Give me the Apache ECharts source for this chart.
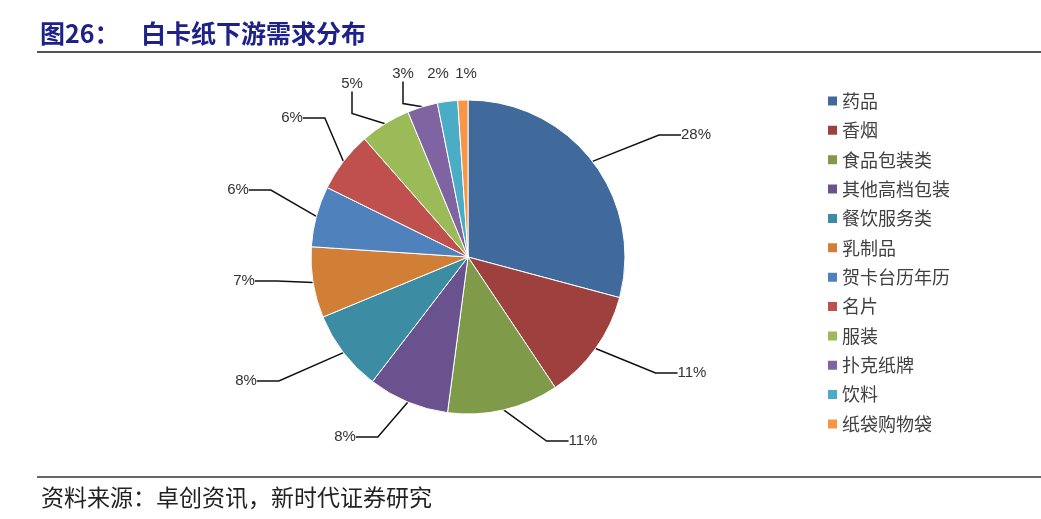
<!DOCTYPE html>
<html><head><meta charset="utf-8">
<script src="https://cdn.jsdelivr.net/npm/echarts@6/dist/echarts.min.js"></script>
<style>html,body{margin:0;padding:0;background:#fff}#c{width:1041px;height:519px}</style>
</head><body><div id="c"></div>
<script>
const categories = ['药品','香烟','食品包装类','其他高档包装','餐饮服务类','乳制品','贺卡台历年历','名片','服装','扑克纸牌','饮料','纸袋购物袋'];
const values = [28,11,11,8,8,7,6,6,5,3,2,1];
const colors = ['#416A9C','#9E413E','#7F9A48','#6A528E','#3C8DA3','#D17F36','#4F81BD','#C0504D','#9BBB59','#8064A2','#4BACC6','#F79646'];
// label anchor placement (styling)
const labelPos = [[696,135],[692,373],[583,441],[345,437],[246,381],[244,281],[238,190],[292,118],[352,84],[403,74],[438,74],[466,74]];
const noLine = [false,false,false,false,false,false,false,false,false,false,true,true];

const chart = echarts.init(document.getElementById('c'));
chart.setOption({
  animation:false,
  title:[
    {text:'图26：', left:35, top:16, textStyle:{fontFamily:'Noto Sans CJK SC',fontSize:25,fontWeight:'bold',color:'#1E2288'}},
    {text:'白卡纸下游需求分布', left:136, top:16, textStyle:{fontFamily:'Noto Sans CJK SC',fontSize:25,fontWeight:'bold',color:'#1E2288'}},
    {text:'资料来源：卓创资讯，新时代证券研究', left:36, top:481, textStyle:{fontFamily:'Noto Sans CJK SC',fontSize:23,fontWeight:'normal',color:'#222'}}
  ],
  graphic:[
    {type:'line',shape:{x1:37,y1:52,x2:1041,y2:52},style:{stroke:'#555',lineWidth:2}},
    {type:'line',shape:{x1:37,y1:477,x2:1041,y2:477},style:{stroke:'#333',lineWidth:1.5}}
  ],
  legend:{
    orient:'vertical', left:821, top:87, itemWidth:11, itemHeight:11, itemGap:11.36, icon:'rect',
    textStyle:{fontFamily:'Noto Sans CJK SC',fontSize:18,lineHeight:18,color:'#404040',padding:[0,0,0,-1]},
    data:categories
  },
  series:[{
    type:'pie', center:[468,257], radius:157, startAngle:90, clockwise:true,
    data:categories.map((n,i)=>({name:n,value:values[i],itemStyle:{color:colors[i]},labelLine:{show:!noLine[i]}})),
    itemStyle:{borderColor:'#fff',borderWidth:1},
    label:{formatter:'{c}%', fontFamily:'Liberation Sans', fontSize:15, color:'#333', padding:[2,3]},
    labelLine:{length:20,length2:22,lineStyle:{color:'#111',width:1.5}},
    labelLayout:function(p){
      const q = labelPos[p.dataIndex];
      return {x:q[0], y:q[1], align:'center', verticalAlign:'middle', hideOverlap:false, moveOverlap:null};
    }
  }]
});
</script></body></html>
